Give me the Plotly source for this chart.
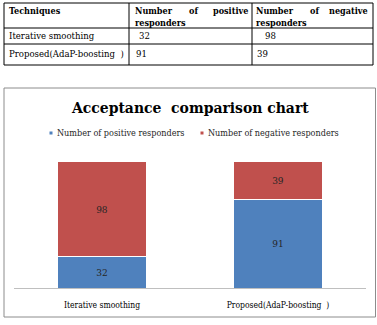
import plotly.graph_objects as go

# ---- data ----
techniques = ["Iterative smoothing", "Proposed(AdaP-boosting  )"]
positive = [32, 91]
negative = [98, 39]
series_names = ["Number of positive responders", "Number of negative responders"]
table_headers = ["Techniques", "Number of positive responders", "Number of negative responders"]
chart_title = "Acceptance  comparison chart"

# ---- style ----
W, H = 377, 325
BLUE = "#4F81BD"
RED = "#C0504D"
SERIF = "DejaVu Serif Condensed"


def px(x):
    return x / W


def py(y):
    return 1 - y / H


fig = go.Figure()
for name, vals, col in [(series_names[0], positive, BLUE), (series_names[1], negative, RED)]:
    fig.add_trace(go.Bar(
        x=techniques, y=vals, name=name,
        marker=dict(color=col, line=dict(color="white", width=1)),
        text=vals, texttemplate="%{text}", textposition="inside",
        insidetextanchor="middle",
        textfont=dict(family=SERIF, size=10, color="#262626"),
        showlegend=False,
    ))

shapes = []
annotations = []

row_lines = [3, 28, 44, 65]
col_lines = [4, 129, 252, 373]
for y in row_lines:
    shapes.append(dict(type="line", xref="paper", yref="paper",
                       x0=px(col_lines[0]), x1=px(col_lines[-1]), y0=py(y), y1=py(y),
                       line=dict(color="black", width=1)))
for x in col_lines:
    shapes.append(dict(type="line", xref="paper", yref="paper",
                       x0=px(x), x1=px(x), y0=py(row_lines[0]), y1=py(row_lines[-1]),
                       line=dict(color="black", width=1)))

hdr_font = dict(family=SERIF, size=9, color="black")
annotations.append(dict(xref="paper", yref="paper", x=px(7), y=py(11.5), xanchor="left",
                        yanchor="middle", text="<b>%s</b>" % table_headers[0],
                        showarrow=False, font=hdr_font))
for ci, (left, right) in enumerate([(133, 250), (254, 370)]):
    words = table_headers[ci + 1].split()
    first, second = words[:3], words[3:]
    annotations.append(dict(xref="paper", yref="paper", x=px(left), y=py(11.5), xanchor="left",
                            yanchor="middle", text="<b>%s</b>" % first[0], showarrow=False, font=hdr_font))
    annotations.append(dict(xref="paper", yref="paper", x=px((left + right) / 2 + 2), y=py(11.5),
                            xanchor="center", yanchor="middle", text="<b>%s</b>" % first[1],
                            showarrow=False, font=hdr_font))
    annotations.append(dict(xref="paper", yref="paper", x=px(right), y=py(11.5), xanchor="right",
                            yanchor="middle", text="<b>%s</b>" % first[2], showarrow=False, font=hdr_font))
    annotations.append(dict(xref="paper", yref="paper", x=px(left), y=py(23), xanchor="left",
                            yanchor="middle", text="<b>%s</b>" % " ".join(second),
                            showarrow=False, font=hdr_font))

cell_font = dict(family=SERIF, size=9.5, color="black")
row_y = [36, 53.5]
for i, tech in enumerate(techniques):
    annotations.append(dict(xref="paper", yref="paper", x=px(7), y=py(row_y[i]), xanchor="left",
                            yanchor="middle", text=tech.replace("  ", "&nbsp; "), showarrow=False,
                            font=cell_font))
    annotations.append(dict(xref="paper", yref="paper", x=px(137 if i == 0 else 134), y=py(row_y[i]),
                            xanchor="left", yanchor="middle", text=str(positive[i]),
                            showarrow=False, font=cell_font))
    annotations.append(dict(xref="paper", yref="paper", x=px(263 if i == 0 else 255), y=py(row_y[i]),
                            xanchor="left", yanchor="middle", text=str(negative[i]),
                            showarrow=False, font=cell_font))

shapes.append(dict(type="rect", xref="paper", yref="paper",
                   x0=px(4), x1=px(375.5), y0=py(317), y1=py(88),
                   line=dict(color="#8C8C8C", width=1)))

annotations.append(dict(xref="paper", yref="paper", x=px(190), y=py(107), xanchor="center",
                        yanchor="middle", text="<b>%s</b>" % chart_title.replace("  ", "&nbsp; "),
                        showarrow=False, font=dict(family=SERIF, size=15.5, color="black")))

leg_font = dict(family=SERIF, size=9, color="#262626")
for name, col, mx in [(series_names[0], BLUE, 51), (series_names[1], RED, 202)]:
    shapes.append(dict(type="rect", xref="paper", yref="paper",
                       x0=px(mx - 1.5), x1=px(mx + 1.5), y0=py(134.5), y1=py(131.5),
                       fillcolor=col, line=dict(width=0)))
    annotations.append(dict(xref="paper", yref="paper", x=px(mx + 4), y=py(133), xanchor="left",
                            yanchor="middle", text=name, showarrow=False, font=leg_font))

fig.update_layout(
    width=W, height=H,
    margin=dict(l=0, r=0, t=0, b=0),
    paper_bgcolor="white", plot_bgcolor="white",
    barmode="stack", bargap=0.49,
    font=dict(family=SERIF),
    shapes=shapes, annotations=annotations,
    xaxis=dict(domain=[px(14), px(366)], showline=True, linecolor="#BFBFBF", linewidth=1,
               ticks="", showgrid=False, zeroline=False,
               tickfont=dict(family=SERIF, size=8.5, color="black"),
               ticklabelstandoff=9),
    yaxis=dict(domain=[py(288), py(150)], range=[0, 142], visible=False, showgrid=False),
)

fig.write_html("out.html")
